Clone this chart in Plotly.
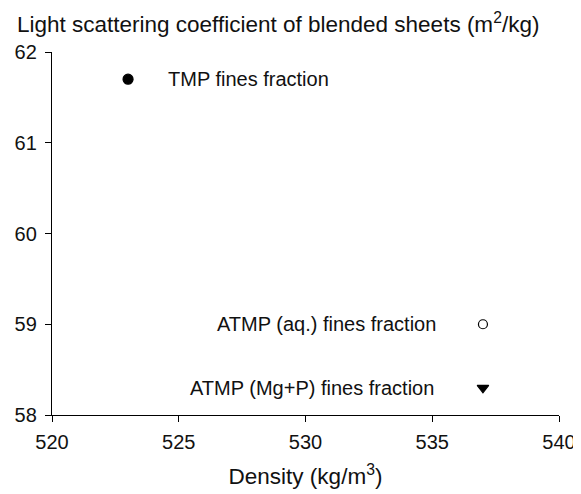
import plotly.graph_objects as go

labels = ["TMP fines fraction", "ATMP (aq.) fines fraction", "ATMP (Mg+P) fines fraction"]
density = [523, 537, 537]
scattering = [61.7, 59.0, 58.3]
symbols = ["circle", "circle-open", "triangle-down"]
sizes = [10, 9, 10]
x_ticks = [520, 525, 530, 535, 540]
y_ticks = [58, 59, 60, 61, 62]

fig = go.Figure()
for lab, xv, yv, sym, sz in zip(labels, density, scattering, symbols, sizes):
    fig.add_trace(go.Scatter(
        x=[xv], y=[yv], mode="markers", name=lab,
        marker=dict(symbol=sym, size=sz, color="black", line=dict(color="black", width=1.2)),
        showlegend=False,
    ))

shifts = [(38, "left"), (-45, "right"), (-47, "right")]
for lab, xv, yv, (sh, anc) in zip(labels, density, scattering, shifts):
    fig.add_annotation(x=xv, y=yv, text=lab, showarrow=False, xanchor=anc, xshift=sh,
                       font=dict(size=20, color="#111"))

fig.add_annotation(xref="paper", yref="paper", x=-0.073, y=1.081, xanchor="left", yanchor="middle",
                   text="Light scattering coefficient of blended sheets (m<sup>2</sup>/kg)",
                   showarrow=False, font=dict(size=22.5, color="#111"))

fig.update_layout(
    width=573, height=486,
    margin=dict(l=44, r=22, t=44, b=79, autoexpand=False),
    plot_bgcolor="white", paper_bgcolor="white",
    font=dict(family="Arial, Liberation Sans, sans-serif", size=20, color="#111"),
)
fig.update_xaxes(range=[520, 540], tickvals=x_ticks, showgrid=False, zeroline=False,
                 showline=True, linecolor="black", linewidth=1.4, ticks="outside", ticklen=6,
                 tickcolor="black", tickwidth=1.4, automargin=False, ticklabelstandoff=3,
                 title=dict(text="Density (kg/m<sup>3</sup>)", font=dict(size=22.5), standoff=16))
fig.update_yaxes(range=[58, 62], tickvals=y_ticks, showgrid=False, zeroline=False,
                 showline=True, linecolor="black", linewidth=1.4, ticks="outside", ticklen=6,
                 tickcolor="black", tickwidth=1.4, automargin=False, ticklabelstandoff=4)

fig.write_html("out.html")
